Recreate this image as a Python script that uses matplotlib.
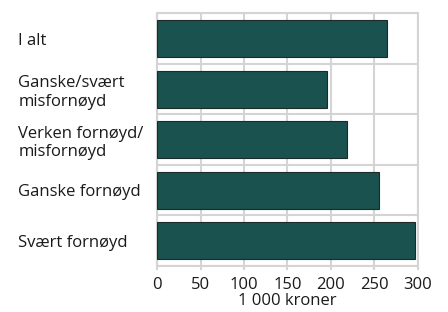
import matplotlib
matplotlib.use("Agg")
import matplotlib.pyplot as plt
import numpy as np

categories = ["I alt", "Ganske/svært\nmisfornøyd", "Verken fornøyd/\nmisfornøyd",
              "Ganske fornøyd", "Svært fornøyd"]
values = [265, 196, 219, 256, 297]
xticks = [0, 50, 100, 150, 200, 250, 300]

plt.rcParams['font.family'] = ['Open Sans', 'DejaVu Sans']

fig = plt.figure(figsize=(4.48, 3.12), dpi=100)
ax = fig.add_axes([0.351, 0.148, 0.581, 0.809])

grid_col = '#d4d4d4'
txt_col = '#1a1a1a'
y = np.arange(len(categories))
ax.barh(y, values, height=0.73, color='#1a524f', edgecolor='#1c2b2a', linewidth=0.8, zorder=3)

ax.set_xlim(0, 300)
ax.set_ylim(len(categories) - 0.5, -0.5)
ax.set_xticks(xticks)
ax.set_yticks(y)
ax.set_yticklabels(categories, ha='left', fontsize=12, color=txt_col)
ax.set_yticks(np.arange(-0.5, len(categories), 1), minor=True)
ax.tick_params(axis='y', which='both', length=0, pad=100)
ax.tick_params(axis='x', length=3, color=grid_col, width=1.5, labelsize=12, labelcolor=txt_col, pad=5)
ax.grid(axis='x', color=grid_col, linewidth=1.5, zorder=0)
ax.grid(axis='y', which='minor', color=grid_col, linewidth=1.5, zorder=0)
for s in ax.spines.values():
    s.set_color(grid_col)
    s.set_linewidth(1.5)
ax.set_axisbelow(True)
ax.set_xlabel('1 000 kroner', fontsize=12, color=txt_col, labelpad=0)

fig.savefig('out.png', dpi=100)
